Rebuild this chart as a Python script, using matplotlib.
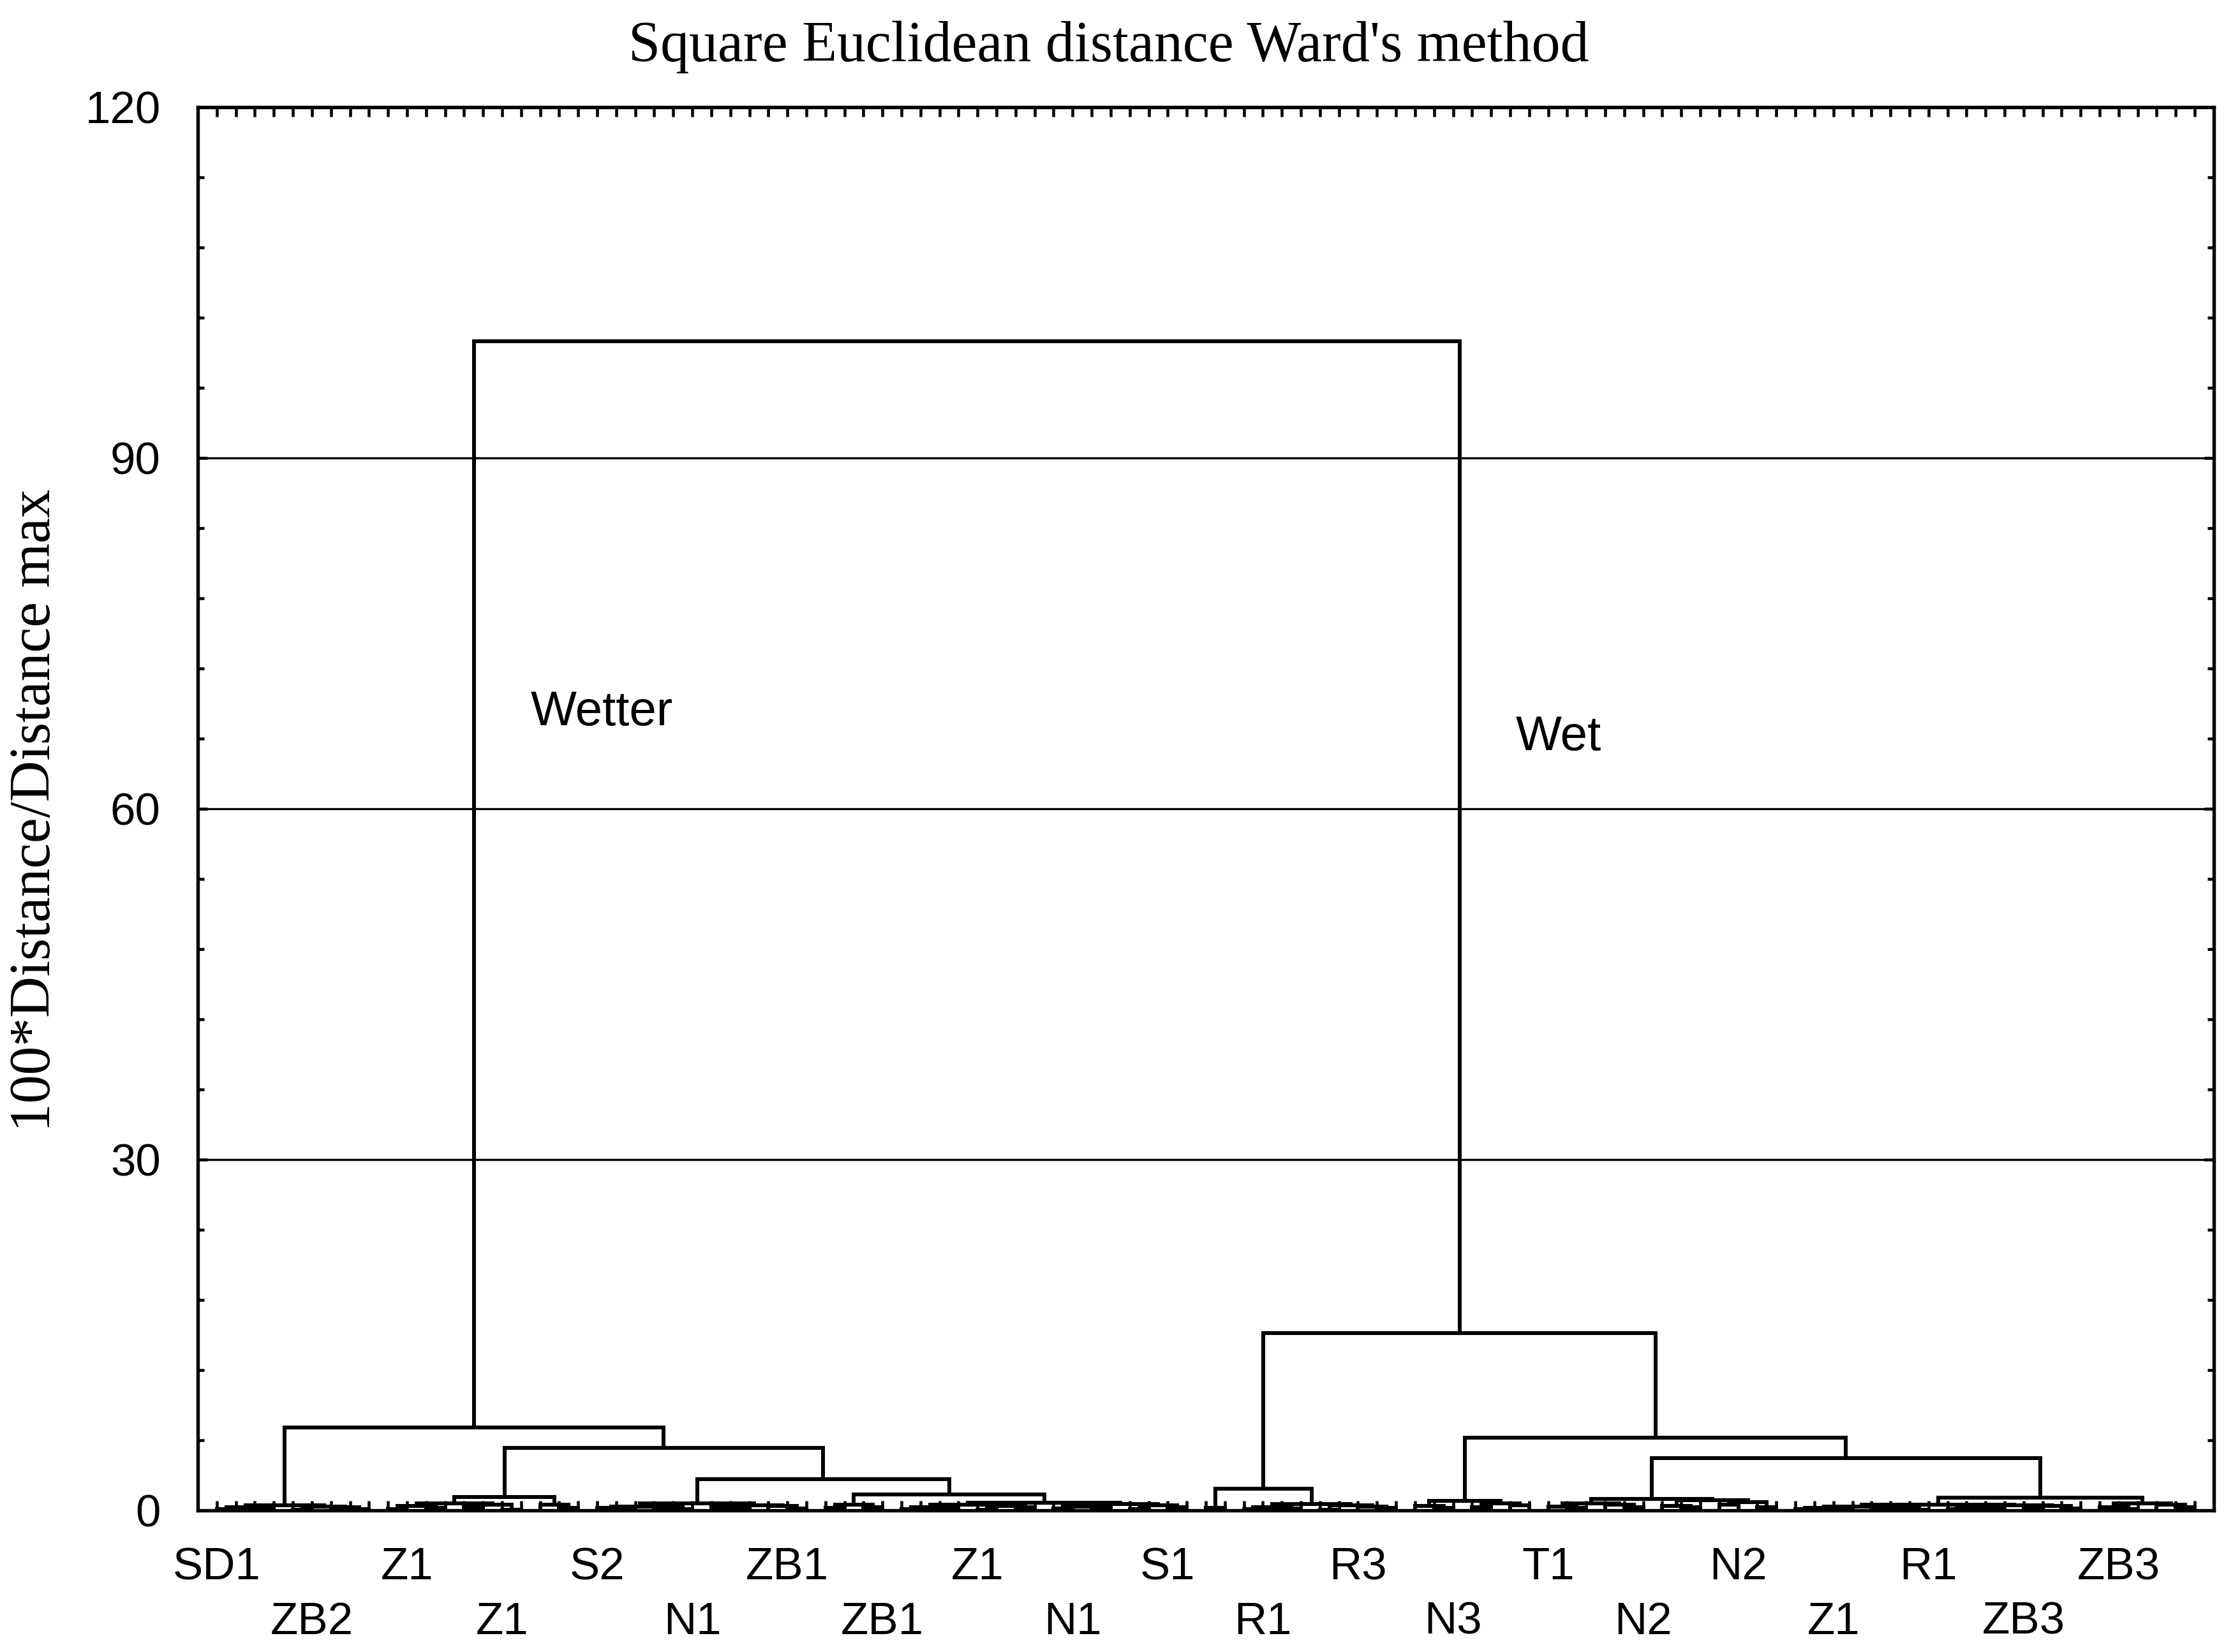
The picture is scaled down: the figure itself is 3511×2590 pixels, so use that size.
import matplotlib
matplotlib.use('Agg')
import matplotlib.pyplot as plt
import matplotlib.transforms as mtransforms
from matplotlib.ticker import MultipleLocator, FixedLocator

# ─────────────────────────────────────────────
# data
# ─────────────────────────────────────────────
n_leaves = 105

leaf_labels = ['SD1', 'ZB2', 'Z1', 'Z1', 'S2', 'N1', 'ZB1', 'ZB1', 'Z1', 'N1', 'S1',
               'R1', 'R3', 'N3', 'T1', 'N2', 'N2', 'Z1', 'R1', 'ZB3', 'ZB3']
label_leaf = [1, 6, 11, 16, 21, 26, 31, 36, 41, 46, 51,
              56, 61, 66, 71, 76, 81, 86, 91, 96, 101]

# low-level groups of leaves (first / last leaf), merge heights in pre-order
group_first = [1, 10, 18, 21, 33, 37, 53, 55, 64, 71, 84, 100]
group_last  = [9, 17, 20, 32, 36, 52, 54, 63, 70, 83, 99, 105]
group_heights = [
    [0.45, 0.3, 0.1, 0.2, 0.35, 0.05, 0.25, 0.1],
    [0.6, 0.4, 0.1, 0.2, 0.5, 0.3, 0.05],
    [0.5, 0.2],
    [0.6, 0.35, 0.2, 0.05, 0.3, 0.1, 0.45, 0.25, 0.1, 0.4, 0.15],
    [0.5, 0.2, 0.3],
    [0.65, 0.5, 0.3, 0.1, 0.2, 0.4, 0.05, 0.3, 0.55, 0.35, 0.15, 0.2, 0.45, 0.1, 0.25],
    [0.2],
    [0.55, 0.3, 0.1, 0.15, 0.45, 0.05, 0.35, 0.2],
    [0.8, 0.4, 0.2, 0.6, 0.3, 0.45],
    [1.0, 0.6, 0.35, 0.2, 0.5, 0.3, 0.85, 0.4, 0.25, 0.7, 0.5, 0.3],
    [0.5, 0.35, 0.2, 0.1, 0.05, 0.3, 0.15, 0.05, 0.45, 0.25, 0.1, 0.2, 0.4, 0.3, 0.15],
    [0.6, 0.3, 0.1, 0.5, 0.25],
]

# upper tree: m0, m1, ... = merge of left/right at height
upper_left   = ['g1', 'g4', 'g3', 'm0', 'g0', 'g6', 'g10', 'g9', 'g8', 'm5', 'm4']
upper_right  = ['g2', 'g5', 'm1', 'm2', 'm3', 'g7', 'g11', 'm6', 'm7', 'm8', 'm9']
upper_height = [1.15, 1.36, 2.68, 5.36, 7.08, 1.86, 1.1, 4.47, 6.23, 15.14, 100.0]

# ─────────────────────────────────────────────
# build tree segments
# ─────────────────────────────────────────────
segments = []

def merge(a, b, h):
    xa, ha = a
    xb, hb = b
    segments.append(([xa, xa, xb, xb], [ha, h, h, hb]))
    return ((xa + xb) / 2, h)

def build(first, last, hs):
    if first == last:
        return (first, 0.0)
    h = next(hs)
    n = last - first + 1
    mid = first + n // 2 - 1
    left = build(first, mid, hs)
    right = build(mid + 1, last, hs)
    return merge(left, right, h)

nodes = {}
for i, (a, b, hs) in enumerate(zip(group_first, group_last, group_heights)):
    nodes[f'g{i}'] = build(a, b, iter(hs))
for i, (l, r, h) in enumerate(zip(upper_left, upper_right, upper_height)):
    nodes[f'm{i}'] = merge(nodes[l], nodes[r], h)

# ─────────────────────────────────────────────
# plot
# ─────────────────────────────────────────────
plt.rcParams['font.family'] = ['Liberation Sans', 'DejaVu Sans']
fig = plt.figure(figsize=(3511 / 300, 2590 / 300), dpi=300)
ax = fig.add_axes([0.0883, 0.0857, 0.9000, 0.8494])

for xs, ys in segments:
    ax.plot(xs, ys, color='black', lw=1.45, solid_joinstyle='miter', zorder=3)

ax.set_xlim(0, n_leaves + 1)
ax.set_ylim(0, 120)

ax.xaxis.set_major_locator(FixedLocator(range(1, n_leaves + 1)))
ax.tick_params(axis='x', which='both', direction='in', top=True, bottom=True,
               labelbottom=False, length=3.6, width=1.1)
ax.yaxis.set_major_locator(FixedLocator([0, 30, 60, 90, 120]))
ax.yaxis.set_minor_locator(MultipleLocator(6))
ax.tick_params(axis='y', which='major', direction='in', left=True, right=True,
               length=3.5, width=1.1, labelsize=17, pad=14)
ax.tick_params(axis='y', which='minor', direction='in', left=True, right=True,
               length=2.4, width=1.1)
for s in ax.spines.values():
    s.set_linewidth(1.3)

ax.yaxis.grid(True, which='major', color='black', lw=0.8)
ax.set_axisbelow(True)

trans = mtransforms.blended_transform_factory(ax.transData, ax.transAxes)
for i, (p, lab) in enumerate(zip(label_leaf, leaf_labels)):
    y = -0.041 if i % 2 == 0 else -0.0798
    ax.text(p, y, lab, transform=trans, ha='center', va='center', fontsize=17)

ax.text(17.5, 68.2, 'Wetter', ha='left', va='center', fontsize=18.3)
ax.text(69.3, 66.1, 'Wet', ha='left', va='center', fontsize=18.3)

fig.text(0.495, 0.9714, "Square Euclidean distance Ward's method",
         ha='center', va='center', fontsize=21.6, family='Liberation Serif')
fig.text(0.016, 0.5097, '100*Distance/Distance max', rotation=90,
         ha='center', va='center', fontsize=21.5, family='Liberation Serif')

fig.savefig('out.png', dpi=300, facecolor='white')
